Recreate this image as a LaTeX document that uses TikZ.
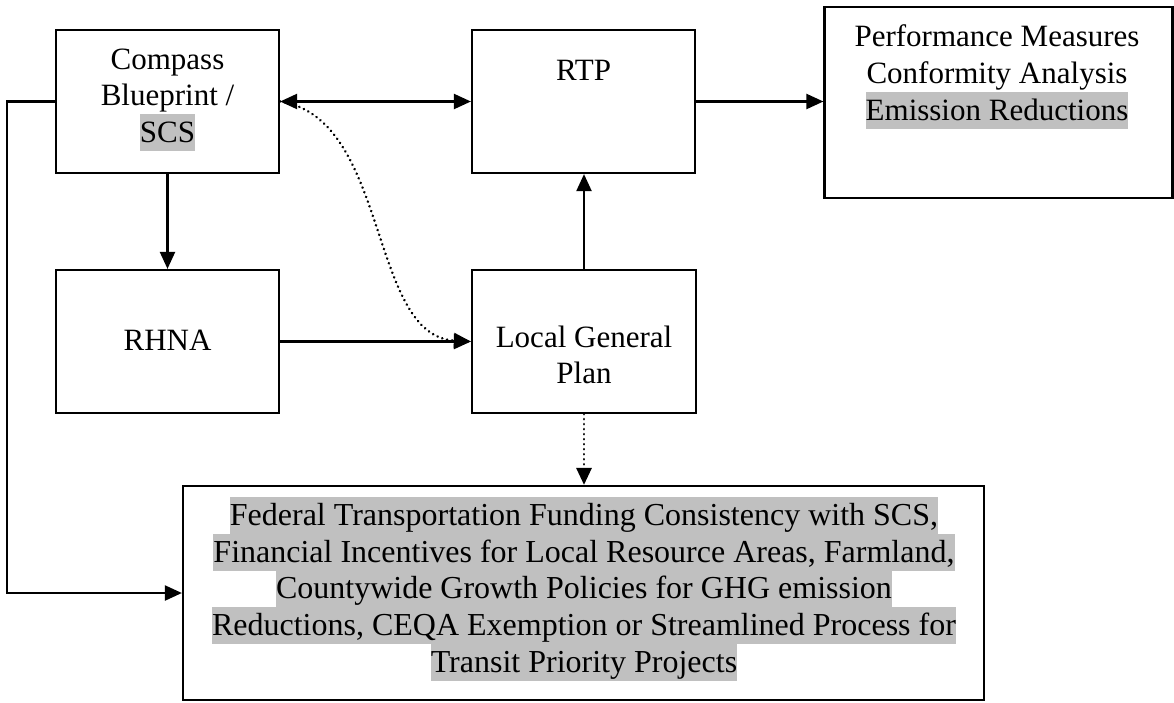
\documentclass[tikz,border=0pt]{standalone}
\usepackage{fontspec}
\setmainfont{Liberation Serif}
\usetikzlibrary{arrows.meta}
\definecolor{hlgray}{HTML}{C0C0C0}
\newcommand{\upstrut}{\rule[-8.6pt]{0pt}{36.7pt}}
\newcommand{\hlt}[1]{{\setlength{\fboxsep}{0pt}\colorbox{hlgray}{\upstrut #1}}}
\tikzset{
  box/.style={draw, line width=2.2pt, inner sep=0pt},
  txt/.style={inner sep=0pt, anchor=north, align=center, font=\fontsize{31}{36.7}\selectfont},
  bigtxt/.style={inner sep=0pt, anchor=north, align=center, font=\fontsize{32}{36.7}\selectfont},
  conn/.style={line width=2.2pt, -{Triangle[length=17pt,width=15pt]}},
  dconn/.style={line width=2.2pt, {Triangle[length=17pt,width=15pt]}-{Triangle[length=17pt,width=15pt]}},
  dotconn/.style={line width=2.8pt, line cap=round, dash pattern=on 0.01pt off 5pt, -{Triangle[length=17pt,width=15pt]}}
}
\begin{document}
\begin{tikzpicture}[x=1pt, y=-1pt]
\useasboundingbox (0,0) rectangle (1174,702);
% boxes
\node[box, minimum width=223pt, minimum height=143pt] (cb) at (167.5,101.5) {};
\node[box, minimum width=223pt, minimum height=143pt] (rtp) at (583.5,101.5) {};
\node[box, minimum width=348pt, minimum height=191pt] (perf) at (998.5,102.5) {};
\node[box, minimum width=223pt, minimum height=143pt] (rhna) at (167.5,341.5) {};
\node[box, minimum width=224pt, minimum height=143pt] (lgp) at (584,341.5) {};
\node[box, minimum width=801pt, minimum height=214pt] (bot) at (583.5,593) {};
% texts
\node[txt] (cbt) at (167.5,40.8) {\upstrut Compass\\\upstrut Blueprint /\\\hlt{SCS}};
\node[txt] (rtpt) at (583.5,51.8) {\upstrut RTP};
\node[txt] (perft) at (997,18.3) {\upstrut Performance Measures\\\upstrut Conformity Analysis\\\hlt{Emission Reductions}};
\node[txt] (rhnat) at (167.5,322) {\upstrut RHNA};
\node[txt] (lgpt) at (584,318.8) {\upstrut Local General\\\upstrut Plan};
\node[bigtxt] (bott) at (584,497) {\hlt{Federal Transportation Funding Consistency with SCS,}\\
\hlt{Financial Incentives for Local Resource Areas, Farmland,}\\
\hlt{Countywide Growth Policies for GHG emission}\\
\hlt{Reductions, CEQA Exemption or Streamlined Process for}\\
\hlt{Transit Priority Projects}};
% connectors
\draw[dconn] (cb.east) -- (rtp.west);
\draw[conn] (rtp.east) -- (perf.west |- rtp.east);
\draw[conn] (cb.south) -- (rhna.north);
\draw[conn] (rhna.east) -- (lgp.west);
\draw[conn] (lgp.north) -- (rtp.south -| lgp.north);
\draw[dotconn] (lgp.south) -- (lgp.south |- bot.north);
\draw[conn] (cb.west) -- ++(-48,0) |- (bot.west);
\draw[dotconn] (cb.east) .. controls (390,118) and (368,336) .. (lgp.west);
\end{tikzpicture}
\end{document}
